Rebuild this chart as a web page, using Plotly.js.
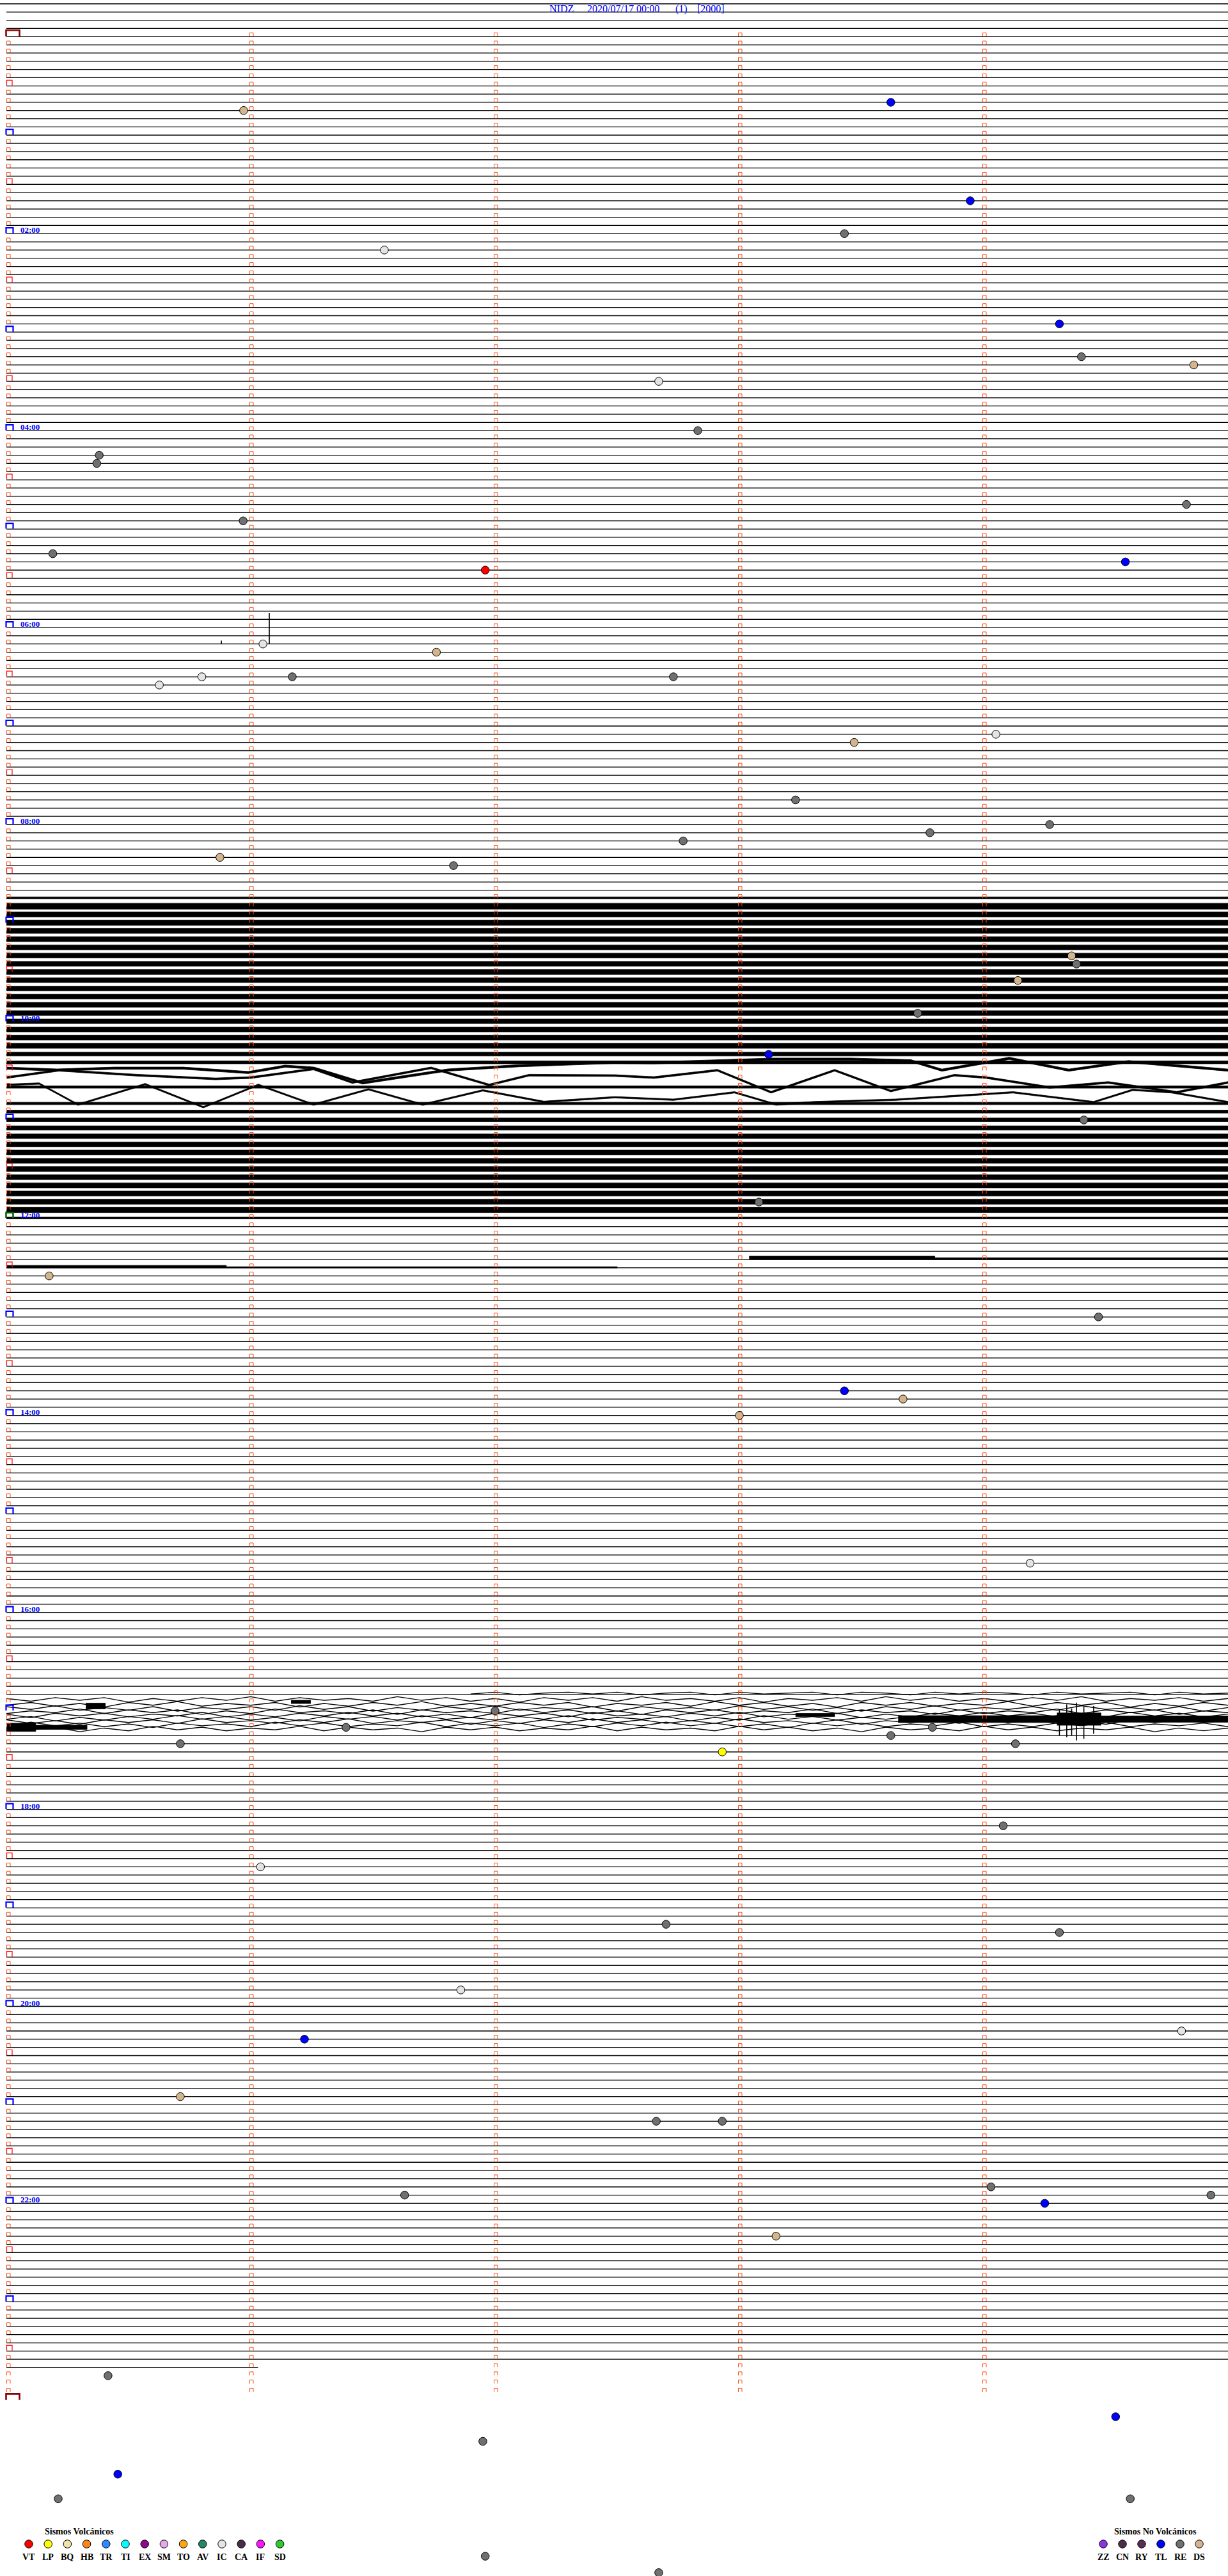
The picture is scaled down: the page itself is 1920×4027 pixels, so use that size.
<!DOCTYPE html>
<html><head><meta charset="utf-8">
<script src="https://cdn.plot.ly/plotly-3.0.1.min.js"></script>
<style>html,body{margin:0;padding:0;background:#fff}</style>
</head><body><div id="chart" style="width:1920px;height:4027px"></div>
<script>
// ---------------- DATA ----------------
const titleParts = ["NIDZ", "2020/07/17 00:00", "(1)", "[2000]"];
const titlePartPx = [858, 917, 1055, 1089];
const hourLabels = ["02:00","04:00","06:00","08:00","10:00","12:00","14:00","16:00","18:00","20:00","22:00"];
const hourLabelLines = [24,48,72,96,120,144,168,192,216,240,264];
const minutesPerLine = 5;
const firstLine = -4, lastFullLine = 283, lastLine = 284, lastLineEndMinute = 1.03;
const markerColumns = [1,2,3,4];

// events: line index (5-minute rows from 00:00), minute within the row, type
const eventLine = [9,8,20,24,26,35,39,40,42,48,51,52,57,59,63,64,65,74,75,79,78,78,78,85,86,93,98,97,96,100,101,112,113,115,119,124,132,142,151,156,165,166,168,186,204,206,206,207,208,208,209,218,223,230,231,238,243,244,251,254,254,262,263,264,263,268,285,290,293,297,300,300,307,309];
const eventMinute = [0.971,3.62,3.945,3.43,1.547,4.31,4.40,4.86,2.67,2.83,0.38,0.37,4.83,0.969,0.19,4.58,1.96,1.05,1.76,0.626,0.80,1.17,2.73,4.05,3.47,3.23,2.77,3.78,4.27,0.874,1.83,4.36,4.38,4.14,3.73,3.12,4.41,3.08,0.175,4.47,3.43,3.67,3.0,4.19,2.0,1.39,3.79,3.62,0.712,4.13,2.93,4.08,1.04,2.70,4.31,1.86,4.81,1.22,0.712,2.66,2.93,4.03,1.63,4.25,4.93,3.15,0.416,4.54,1.95,0.456,4.60,0.212,1.96,2.67];
const eventType = ["DS","TL","TL","RE","IC","TL","RE","DS","IC","RE","RE","RE","RE","RE","RE","TL","VT","IC","DS","IC","IC","RE","RE","IC","DS","RE","RE","RE","RE","DS","RE","DS","RE","DS","RE","TL","RE","RE","DS","RE","TL","DS","DS","IC","RE","RE","RE","RE","RE","RE","LP","RE","IC","RE","RE","IC","IC","TL","DS","RE","RE","RE","RE","TL","RE","DS","RE","TL","RE","TL","RE","RE","RE","RE"];

const volcTypes = ["VT","LP","BQ","HB","TR","TI","EX","SM","TO","AV","IC","CA","IF","SD"];
const volcColors = ["#FF0000","#FFFF00","#EEE4A8","#FF8418","#2C8CFF","#00FFFF","#8C0A8C","#E8A8E8","#FFA514","#24866A","#E4E4E4","#4A2C4A","#FF14FF","#30C830"];
const tectTypes = ["ZZ","CN","RY","TL","RE","DS"];
const tectColors = ["#8C34E0","#4C2E4C","#5A2C5A","#0000FF","#707070","#D4B48C"];

// continuous noisy rows (08:45 - 12:00): band extent above / below the row, in row units
const noiseFirstLine = 105;
const noiseUp =   [0.18,0.4,0.34,0.36,0.34,0.33,0.33,0.32,0.32,0.33,0.32,0.3,0.32,0.33,0.32,0.3,0.32,0.33,0.34,0.26,0.2,0.15,0.12,0.15,0.1,0.16,0.2,0.24,0.28,0.3,0.32,0.33,0.32,0.32,0.33,0.34,0.34,0.34,0.36,0.18];
const noiseDown = [0.03,0.3,0.27,0.27,0.26,0.26,0.26,0.26,0.25,0.26,0.25,0.25,0.26,0.26,0.25,0.25,0.26,0.26,0.27,0.2,0.15,0.12,0.1,0.12,0.08,0.13,0.16,0.2,0.23,0.25,0.26,0.26,0.26,0.26,0.26,0.27,0.27,0.27,0.28,0.03];

// long-period swells on some rows (minute, offset upward in row units)
const swell126Minute = [0,0.207,0.442,0.723,0.99,1.141,1.259,1.458,1.806,2.1,2.487,2.649,2.974,3.134,3.458,3.702,3.829,4.105,4.348,4.592,5.0];
const swell126Offset = [0.3,0.07,0.3,0.3,-0.23,0.54,0.3,-1.5,0.07,0.6,1.0,0.95,1.25,1.4,1.4,1.2,0.06,1.5,0.06,1.1,0.06];
const swell127Minute = [0,0.215,0.534,0.856,1.0,1.257,1.416,1.576,1.738,1.976,2.139,2.49,2.65,2.91,3.13,3.39,3.62,3.88,4.01,4.27,4.51,4.79,5.0];
const swell127Offset = [0.16,1.05,0.45,0.0,0.16,1.2,-0.44,0.45,1.34,-0.74,0.45,0.4,0.16,1.05,-1.63,1.05,-1.48,0.45,0.16,-1.04,-0.44,-1.63,-0.44];
const swell129Minute = [0,0.134,0.293,0.568,0.806,1.031,1.257,1.482,1.704,1.95,2.2,2.49,2.73,2.98,3.15,3.31,3.64,3.96,4.12,4.45,4.61,4.77,5.0];
const swell129Offset = [1.28,1.43,-1.14,1.36,-1.45,1.28,-1.14,0.73,-1.14,0.6,-0.8,-0.24,-0.54,0.36,-1.13,-0.83,-0.54,0.06,0.36,-0.83,0.66,0.36,-0.83];

// partial noise on quiet rows
const grassLine  = [149,149,150,150];
const grassStart = [3.04,3.8,0.0,0.9];
const grassEnd   = [3.8,5.0,0.9,2.5];
const grassUp    = [0.42,0.22,0.28,0.12];
const grassDown  = [0.03,0.03,0.03,0.03];

// 17:00 disturbed block: wiggly traces (row position, start minute, offsets every 0.1 min in 0.11 row units)
const wiggleRow = [202.05,202.6,203.2,203.7,204.1,204.5,204.9,205.3,205.7,206.2];
const wiggleStart = [1.87,0,0,0,0,0,0,0,0,0];
const wiggleOffsets = [
 [0,0,0,0,0,0,0,0,0,0,0,0,0,0,0,0,0,0,0,1,3,0,2,3,1,3,0,2,3,0,3,1,2,3,0,3,2,0,3,1,3,2,0,3,1,2,3,0,3,1,2],
 [1,-2,2,-1,2,-3,1,-2,2,-1,3,-2,2,-1,1,-2,3,-1,2,-2,1,-3,2,-1,2,-2,3,-1,1,-2,2,-3,1,-1,2,-2,3,-1,2,-2,1,-2,2,-1,3,-2,1,-1,2,-2,1],
 [-1,2,-2,1,-3,2,-1,3,-2,1,-1,2,-3,1,-2,2,-1,3,-2,1,-2,2,-1,2,-3,1,-1,2,-2,3,-1,2,-2,1,-3,2,-1,2,-2,1,-1,3,-2,2,-1,2,-3,1,-2,2,-1],
 [2,-1,3,-2,1,-2,2,-3,1,-1,2,-2,3,-1,2,-3,1,-2,2,-1,3,-2,1,-1,2,-3,2,-1,1,-2,3,-1,2,-2,1,-3,2,-1,3,-2,1,-1,2,-2,3,-1,1,-2,2,-3,1],
 [-2,1,-1,3,-2,2,-1,2,-3,1,-2,3,-1,1,-2,2,-3,2,-1,1,-2,3,-1,2,-2,1,-3,2,-1,2,-2,1,-1,3,-2,2,-1,1,-3,2,-2,1,-1,3,-2,2,-1,2,-3,1,-1],
 [1,-3,2,-1,2,-2,1,-1,3,-2,1,-2,2,-1,3,-1,2,-2,1,-3,2,-1,2,-2,3,-1,1,-2,2,-1,3,-2,1,-1,2,-3,1,-2,2,-1,3,-1,2,-2,1,-2,3,-1,2,-2,1],
 [-1,2,-3,1,-2,2,-1,3,-1,2,-2,1,-3,2,-1,2,-2,3,-1,1,-2,2,-1,3,-2,1,-1,2,-3,1,-2,3,-1,2,-2,1,-1,2,-3,2,-1,1,-2,3,-1,2,-2,1,-3,2,-1],
 [2,-2,1,-3,2,-1,2,-2,3,-1,1,-2,2,-1,3,-2,1,-1,2,-3,1,-2,2,-1,3,-1,2,-2,1,-2,3,-1,1,-2,2,-3,1,-1,2,-2,3,-1,2,-2,1,-3,2,-1,2,-1,1],
 [-2,3,-1,2,-2,1,-3,2,-1,1,-2,3,-1,2,-2,1,-1,3,-2,2,-1,2,-3,1,-2,2,-1,3,-1,2,-2,1,-3,2,-1,2,-2,1,-1,3,-2,1,-2,2,-1,3,-2,1,-1,2,-2],
 [1,-1,2,-3,1,-2,3,-1,2,-2,1,-1,3,-2,2,-1,1,-3,2,-1,2,-2,1,-1,3,-2,2,-1,1,-2,3,-1,2,-2,1,-3,2,-1,1,-2,3,-1,2,-2,1,-1,2,-3,1,-2,1]
];
const burstLine  = [206.0,206.0,203.4,202.9,204.5,205.0,205.0,205.0];
const burstStart = [0,0.12,0.325,1.165,3.23,3.65,4.3,4.48];
const burstEnd   = [0.12,0.33,0.405,1.245,3.39,4.3,4.48,5.0];
const burstUp    = [0.5,0.25,0.35,0.2,0.2,0.42,0.75,0.38];
const burstDown  = [0.5,0.25,0.35,0.2,0.2,0.42,0.75,0.38];

// isolated spikes (row, minute, extent up, extent down)
const spikeLine   = [74,74,205,205,205,205,205,205];
const spikeMinute = [1.076,0.88,4.31,4.34,4.38,4.41,4.45,4.36];
const spikeUp     = [3.8,0.4,1.2,1.8,2.0,1.5,1.6,1.3];
const spikeDown   = [0,0,2.0,2.2,2.6,2.4,1.8,2.0];

// ---------------- GEOMETRY (pixel <-> axis) ----------------
const W = 1920, H = 4027;
const PX_PER_MIN = 382, X0_PX = 10, LINE0_PX = 57.3, PX_PER_LINE = 12.83;
const mOf = px => (px - X0_PX) / PX_PER_MIN;
const kOf = py => (py - LINE0_PX) / PX_PER_LINE;
const dm = px => px / PX_PER_MIN;
const dk = py => py / PX_PER_LINE;

const traces = [];

// quiet rows
const flat = {x: [], y: []};
function seg(x0, x1, k) { flat.x.push(x0, x1, null); flat.y.push(k, k, null); }
seg(mOf(0), minutesPerLine, firstLine);
for (let k = firstLine + 1; k <= lastFullLine; k++) {
  if (k > noiseFirstLine && k < noiseFirstLine + noiseUp.length - 1) continue;
  if (k >= 203 && k <= 206) continue;
  seg(0, minutesPerLine, k);
}
seg(0, lastLineEndMinute, lastLine);
traces.push({type: 'scatter', mode: 'lines', x: flat.x, y: flat.y, hoverinfo: 'skip',
  line: {color: '#000', width: 1.3}});

const spk = {x: [], y: []};
for (let i = 0; i < spikeLine.length; i++) {
  spk.x.push(spikeMinute[i], spikeMinute[i], null);
  spk.y.push(spikeLine[i] + spikeDown[i], spikeLine[i] - spikeUp[i], null);
}
traces.push({type: 'scatter', mode: 'lines', x: spk.x, y: spk.y, hoverinfo: 'skip',
  line: {color: '#000', width: 1.6}});

// noise bands (filled polygons)
const band = {x: [], y: []};
function poly(ms, offs, k, up, down) {
  for (let i = 0; i < ms.length; i++) { band.x.push(ms[i]); band.y.push(k - offs[i] - up); }
  for (let i = ms.length - 1; i >= 0; i--) { band.x.push(ms[i]); band.y.push(k - offs[i] + down); }
  band.x.push(null); band.y.push(null);
}
const swells = {126: [swell126Minute, swell126Offset], 127: [swell127Minute, swell127Offset], 129: [swell129Minute, swell129Offset]};
for (let i = 0; i < noiseUp.length; i++) {
  const k = noiseFirstLine + i;
  const sw = swells[k] || [[0, minutesPerLine], [0, 0]];
  poly(sw[0], sw[1], k, noiseUp[i], noiseDown[i]);
}
for (let i = 0; i < grassLine.length; i++)
  poly([grassStart[i], grassEnd[i]], [0, 0], grassLine[i], grassUp[i], grassDown[i]);
for (let i = 0; i < burstLine.length; i++)
  poly([burstStart[i], burstEnd[i]], [0, 0], burstLine[i], burstUp[i], burstDown[i]);
traces.push({type: 'scatter', mode: 'lines', x: band.x, y: band.y, fill: 'toself',
  fillcolor: '#000', hoverinfo: 'skip', line: {color: '#000', width: 0.8}});

// wiggly traces of the 17:00 block
const wig = {x: [], y: []};
wiggleOffsets.forEach((offs, j) => {
  offs.forEach((v, i) => {
    const m = i * 0.1;
    if (m + 1e-9 < wiggleStart[j]) return;
    wig.x.push(m); wig.y.push(wiggleRow[j] - v * 0.11);
  });
  wig.x.push(null); wig.y.push(null);
});
traces.push({type: 'scatter', mode: 'lines', x: wig.x, y: wig.y, hoverinfo: 'skip',
  line: {color: '#000', width: 1.4}});

// minute / half-hour / hour markers
function bracketTrace(color, width) { return {x: [], y: [], color, width}; }
const bOrange = bracketTrace('#FF4A10', 1), bRed = bracketTrace('#FF0000', 1.2),
      bBlue = bracketTrace('#0000FF', 2.2), bDark = bracketTrace('#8B0000', 2.6),
      bGreen = bracketTrace('#006400', 2.6);
function bracket(b, m, k, offPx, wPx, hPx) {
  const x0 = m + dm(offPx), x1 = x0 + dm(wPx), y0 = k - dk(0.5), y1 = k - dk(hPx);
  b.x.push(x0, x0, x1, x1, null); b.y.push(y0, y1, y1, y0, null);
}
for (let k = 0; k <= 288; k++) {
  if (k === 0 || k === 288) bracket(bDark, 0, k, -0.5, 21, 10);
  else if (k % 12 === 0) bracket(k === 144 ? bGreen : bBlue, 0, k, -0.5, 11, 9);
  else if (k % 6 === 0) bracket(bRed, 0, k, 0.5, 8.5, 9);
  else bracket(bOrange, 0, k, 0.5, 5.5, 6);
  if (k < 288) markerColumns.forEach(c => bracket(bOrange, c, k, -1.5, 5.5, 6));
}
[bOrange, bRed, bBlue, bDark, bGreen].forEach(b => traces.push({type: 'scatter', mode: 'lines',
  x: b.x, y: b.y, hoverinfo: 'skip', line: {color: b.color, width: b.width}}));

// event circles
const allTypes = volcTypes.concat(tectTypes), allColors = volcColors.concat(tectColors);
allTypes.forEach((t, ti) => {
  const xs = [], ys = [];
  eventType.forEach((et, i) => { if (et === t) { xs.push(eventMinute[i]); ys.push(eventLine[i]); } });
  if (!xs.length) return;
  traces.push({type: 'scatter', mode: 'markers', x: xs, y: ys, name: t, cliponaxis: false,
    marker: {color: allColors[ti], size: 12.5, line: {color: '#000', width: 1}}});
});

// legend swatches
const legX = [], legY = [], legC = [];
const annotations = [];
const LEG_CIRCLE_Y = 3977, LEG_LABEL_Y = 3997, LEG_TITLE_Y = 3957;
volcTypes.forEach((t, i) => {
  const px = 45 + 30.2 * i;
  legX.push(mOf(px)); legY.push(kOf(LEG_CIRCLE_Y)); legC.push(volcColors[i]);
  annotations.push({x: mOf(px), y: kOf(LEG_LABEL_Y), text: t, showarrow: false, xanchor: 'center', yanchor: 'middle',
    font: {family: 'Liberation Serif', size: 14, color: '#000', weight: 'bold'}});
});
tectTypes.forEach((t, i) => {
  const px = 1725 + 30 * i;
  legX.push(mOf(px)); legY.push(kOf(LEG_CIRCLE_Y)); legC.push(tectColors[i]);
  annotations.push({x: mOf(px), y: kOf(LEG_LABEL_Y), text: t, showarrow: false, xanchor: 'center', yanchor: 'middle',
    font: {family: 'Liberation Serif', size: 14, color: '#000', weight: 'bold'}});
});
traces.push({type: 'scatter', mode: 'markers', x: legX, y: legY, hoverinfo: 'skip', cliponaxis: false,
  marker: {color: legC, size: 12.5, line: {color: '#000', width: 1}}});
annotations.push({x: mOf(124), y: kOf(LEG_TITLE_Y), text: 'Sismos Volcánicos', showarrow: false,
  xanchor: 'center', yanchor: 'middle', font: {family: 'Liberation Serif', size: 14, color: '#000', weight: 'bold'}});
annotations.push({x: mOf(1806), y: kOf(LEG_TITLE_Y), text: 'Sismos No Volcánicos', showarrow: false,
  xanchor: 'center', yanchor: 'middle', font: {family: 'Liberation Serif', size: 14, color: '#000', weight: 'bold'}});

// title
titleParts.forEach((t, i) => annotations.push({x: mOf(titlePartPx[i]), y: kOf(13.5), text: t, showarrow: false,
  xanchor: 'left', yanchor: 'middle', borderpad: 0,
  font: {family: 'Liberation Serif', size: 16, color: '#0000FF'}}));

// hour labels
hourLabels.forEach((t, i) => annotations.push({x: mOf(31), y: hourLabelLines[i] - dk(5.5), text: t,
  showarrow: false, xanchor: 'left', yanchor: 'middle', borderpad: 0,
  font: {family: 'Liberation Serif', size: 13, color: '#0000FF', weight: 'bold'}}));

const layout = {
  width: W, height: H, margin: {l: 0, r: 0, t: 0, b: 0}, showlegend: false,
  paper_bgcolor: '#fff', plot_bgcolor: '#fff',
  xaxis: {range: [mOf(0), mOf(W)], visible: false, fixedrange: true},
  yaxis: {range: [kOf(H), kOf(0)], visible: false, fixedrange: true},
  annotations
};
Plotly.newPlot('chart', traces, layout, {staticPlot: true});
</script></body></html>
